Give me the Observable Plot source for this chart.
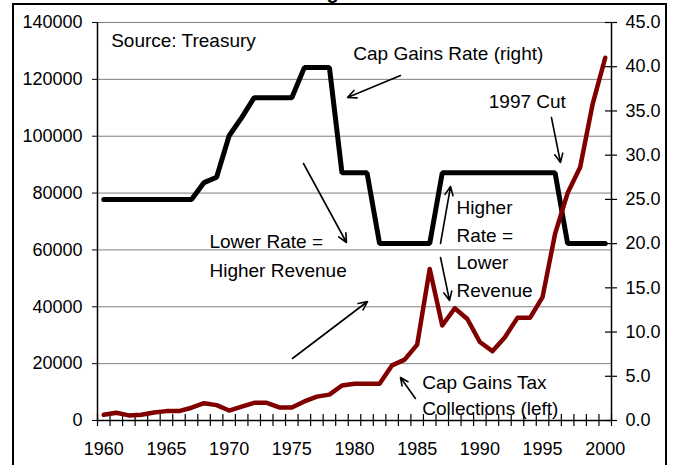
<!DOCTYPE html>
<html>
<head>
<meta charset="utf-8">
<script src="https://cdn.jsdelivr.net/npm/d3@7"></script>
<script src="https://cdn.jsdelivr.net/npm/@observablehq/plot@0.6"></script>
<style>
  html, body { margin: 0; padding: 0; background: #fff; }
  #wrap { position: relative; width: 673px; height: 465px; overflow: hidden; font-family: "Liberation Sans", Arial, sans-serif; }
  #title { position: absolute; top: -19px; left: 0; width: 673px; text-align: center; font-weight: bold; font-size: 20px; line-height: 23px; color: #000; }
  #frame { position: absolute; left: 12px; top: 3px; width: 651px; height: 520px; border: 2px solid #000; box-sizing: content-box; }
  #chart { position: absolute; left: 0; top: 0; }
</style>
</head>
<body>
<div id="wrap">
  <div id="title">Lower Rates = Higher Tax Revenues</div>
  <div id="frame"></div>
  <div id="chart"></div>
</div>
<script>
// ---- Data ----
const years = d3.range(1960, 2001);
// Capital gains tax collections, $ millions (left axis)
const revenue = [2000, 2700, 1800, 2000, 2800, 3300, 3300, 4500, 6100, 5400,
                 3500, 4900, 6200, 6200, 4600, 4600, 6700, 8400, 9100, 12300,
                 12900, 12900, 12900, 19400, 21400, 26700, 53300, 33400, 39500, 35700,
                 27600, 24400, 29300, 36100, 36100, 43400, 65700, 80000, 89100, 111400, 127600];
// Top capital gains tax rate, % (right axis)
const rate = [25, 25, 25, 25, 25, 25, 25, 25, 26.9, 27.5,
              32.2, 34.25, 36.5, 36.5, 36.5, 36.5, 39.9, 39.9, 39.9, 28,
              28, 28, 20, 20, 20, 20, 20, 28, 28, 28,
              28, 28, 28, 28, 28, 28, 28, 20, 20, 20, 20];
const leftTicks = [0, 20000, 40000, 60000, 80000, 100000, 120000, 140000];
const rightTicks = [0, 5, 10, 15, 20, 25, 30, 35, 40, 45];
const yearLabels = [1960, 1965, 1970, 1975, 1980, 1985, 1990, 1995, 2000];

// Annotations (positioned in data space: year, left-axis value)
const noteText = ["Source: Treasury", "Cap Gains Rate (right)", "1997 Cut",
                  "Lower Rate =", "Higher Revenue",
                  "Higher", "Rate =", "Lower", "Revenue",
                  "Cap Gains Tax", "Collections (left)"];
const noteX = [1960.59, 1979.90, 1990.71, 1968.43, 1968.43, 1988.14, 1988.14, 1988.14, 1988.14, 1985.40, 1985.40];
const noteY = [133458, 128780, 112140, 62754, 52553, 74749, 65076, 55402, 45729, 13297, 3904];

const arrowX1 = [1983.67, 1995.71, 1975.93, 1975.05, 1986.86, 1986.86, 1984.86];
const arrowY1 = [121357, 106583, 90402, 21809, 62262, 57337, 7739];
const arrowX2 = [1979.44, 1996.43, 1979.36, 1981.04, 1987.66, 1987.58, 1983.67];
const arrowY2 = [113618, 90754, 62613, 41859, 82312, 42211, 15126];

// ---- Build tables ----
const K = 140000 / 45; // right-axis value -> left-axis units
const revData = years.map((y, i) => ({year: y, value: revenue[i]}));
const rateData = years.map((y, i) => ({year: y, value: rate[i] * K}));
const notes = noteText.map((t, i) => ({text: t, x: noteX[i], y: noteY[i]}));
const arrows = arrowX1.map((x, i) => ({x1: x, y1: arrowY1[i], x2: arrowX2[i], y2: arrowY2[i]}));
const xMin = 1959.5, xMax = 2000.5;
const xTicks = d3.range(xMin, xMax + 0.01, 1);

const chart = Plot.plot({
  width: 673,
  height: 465,
  marginLeft: 97,
  marginRight: 62,
  marginTop: 22,
  marginBottom: 45,
  style: {fontFamily: "'Liberation Sans', Arial, sans-serif", background: "transparent", color: "#000"},
  x: {domain: [xMin, xMax]},
  y: {domain: [0, 140000]},
  marks: [
    Plot.gridY(leftTicks.slice(1), {stroke: "#7f7f7f", strokeOpacity: 1, strokeWidth: 1}),
    // axis lines
    Plot.ruleX([xMin], {stroke: "#000", strokeWidth: 1.5}),
    Plot.ruleX([xMax], {stroke: "#000", strokeWidth: 1.5}),
    Plot.ruleY([0], {stroke: "#000", strokeWidth: 1.5}),
    // x ticks crossing the axis
    Plot.ruleX(xTicks, {y1: 0, y2: 0, insetTop: -6, insetBottom: -6, stroke: "#000", strokeWidth: 1.2}),
    // right ticks crossing the axis
    Plot.ruleY(rightTicks.map(r => r * K), {x1: xMax, x2: xMax, insetLeft: -6, insetRight: -6, stroke: "#000", strokeWidth: 1.2}),
    Plot.axisY(leftTicks, {anchor: "left", tickSize: 5, tickPadding: 10, fontSize: 18, label: null, tickFormat: d => String(d)}),
    Plot.axisY(rightTicks.map(r => r * K), {anchor: "right", tickSize: 0, tickPadding: 14, fontSize: 18, label: null, tickFormat: d => (d / K).toFixed(1)}),
    Plot.axisX(yearLabels, {anchor: "bottom", tickSize: 0, tickPadding: 21.5, fontSize: 18, label: null, tickFormat: d => String(d)}),
    // series
    Plot.line(rateData, {x: "year", y: "value", stroke: "#000", strokeWidth: 5, strokeLinejoin: "miter", strokeLinecap: "round"}),
    Plot.line(revData, {x: "year", y: "value", stroke: "#800000", strokeWidth: 4.5, strokeLinejoin: "round", strokeLinecap: "round"}),
    // annotations
    Plot.arrow(arrows, {x1: "x1", y1: "y1", x2: "x2", y2: "y2", stroke: "#000", strokeWidth: 1.6, headLength: 9, headAngle: 50}),
    Plot.text(notes, {x: "x", y: "y", text: "text", textAnchor: "start", fontSize: 19, fill: "#000"})
  ]
});
document.getElementById("chart").appendChild(chart);
</script>
</body>
</html>
